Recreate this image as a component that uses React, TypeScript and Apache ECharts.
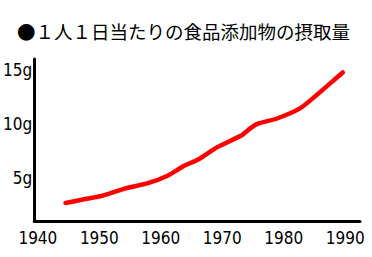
import React, { useEffect, useRef } from "react";
import * as echarts from "echarts";

const titleText = "●１人１日当たりの食品添加物の摂取量";
const years = [1944.5, 1947.7, 1950.4, 1954.1, 1957.9, 1961.1, 1963.8, 1966.0, 1969.2, 1973.0, 1974.6, 1975.7, 1978.9, 1982.7, 1985.4, 1987.6, 1989.6];
const grams = [2.66, 3.03, 3.33, 4.0, 4.5, 5.19, 6.11, 6.67, 7.84, 8.89, 9.6, 10.0, 10.49, 11.45, 12.69, 13.77, 14.75];
const xTicks = [1940, 1950, 1960, 1970, 1980, 1990];
const yTicks = [5, 10, 15];

const labelFont = "'Liberation Sans Narrow', 'DejaVu Sans Condensed', sans-serif";

export default function App() {
  const ref = useRef<HTMLDivElement>(null);
  useEffect(() => {
    if (!ref.current) return;
    const chart = echarts.init(ref.current, null, { renderer: "svg" });
    chart.setOption({
      animation: false,
      backgroundColor: "#ffffff",
      title: {
        text: titleText,
        left: 17,
        top: 21,
        padding: 0,
        textStyle: {
          fontFamily: "'Noto Sans CJK JP', sans-serif",
          fontSize: 18.5,
          fontWeight: "normal",
          color: "#000",
          lineHeight: 20,
        },
      },
      grid: { left: 32, right: 12, top: 59, bottom: 36, containLabel: false },
      xAxis: {
        type: "value",
        min: 1939.4,
        max: 1992.4,
        axisLine: { show: true, lineStyle: { color: "#000", width: 3 } },
        axisTick: { show: false },
        splitLine: { show: false },
        axisLabel: {
          customValues: xTicks,
          margin: 8,
          color: "#000",
          fontSize: 17,
          fontFamily: labelFont,
          formatter: (v: number) => String(v),
        },
      },
      yAxis: {
        type: "value",
        min: 1,
        max: 16,
        axisLine: { show: true, lineStyle: { color: "#000", width: 3 } },
        axisTick: { show: false },
        splitLine: { show: false },
        axisLabel: {
          customValues: yTicks,
          margin: 2,
          color: "#000",
          fontSize: 17,
          fontFamily: labelFont,
          formatter: (v: number) => v + "g",
        },
      },
      series: [
        {
          type: "line",
          data: years.map((y, i) => [y, grams[i]]),
          showSymbol: false,
          smooth: 0.2,
          lineStyle: { color: "#ff0000", width: 4.5, cap: "round", join: "round" },
        },
      ],
    });
    return () => chart.dispose();
  }, []);
  return <div ref={ref} style={{ position: "fixed", left: 0, top: 0, width: 372, height: 257 }} />;
}
